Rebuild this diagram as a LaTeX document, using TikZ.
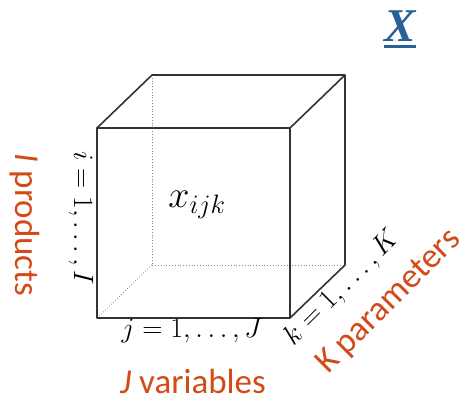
\RequirePackage{fix-cm}
\documentclass[tikz,border=0pt]{standalone}
\usepackage{fontspec}
\usepackage{xcolor}
\usepackage{tikz}
\usetikzlibrary{calc}
\newfontfamily\labelfont{Carlito}
\newfontfamily\titlefont{Liberation Serif}
\definecolor{labelred}{RGB}{210,74,24}
\definecolor{titleblue}{RGB}{42,96,153}

\begin{document}
\begin{tikzpicture}[x=1pt,y=-1pt]
              \tikzstyle{edge}=[black!80,line width=1.6pt,line join=round]
              \tikzstyle{hidden}=[black!45,line width=0.8pt,dotted]
              \tikzstyle{caption}=[text=labelred,font=\labelfont\fontsize{35}{40}\selectfont,inner sep=0pt]
              \tikzstyle{index}=[font=\fontsize{28}{32}\selectfont,inner sep=0pt]

              \useasboundingbox (0,0) rectangle (465,398);

              % CORNERS
              \coordinate (FTL) at (97,128);
              \coordinate (FTR) at (290,128);
              \coordinate (FBL) at (97,318);
              \coordinate (FBR) at (290,318);
              \coordinate (BTL) at (152,75);
              \coordinate (BTR) at (345,75);
              \coordinate (BBL) at (152,265);
              \coordinate (BBR) at (345,265);

              % HIDDEN EDGES
              \draw[hidden] (BTL) -- (BBL) -- (BBR);
              \draw[hidden] (FBL) -- (BBL);

              % VISIBLE EDGES
              \draw[edge] (FTL) -- (FTR) -- (FBR) -- (FBL) -- cycle;
              \draw[edge] (FTL) -- (BTL) -- (BTR) -- (FTR);
              \draw[edge] (BTR) -- (BBR) -- (FBR);

              % LABELS
              \node[font=\fontsize{38}{40}\selectfont] (entry) at (197,205) {$x_{ijk}$};
              \node[index,rotate=-90] (ilabel) at (81,218) {$i=1,\dots,I$};
              \node[index] (jlabel) at (192,331) {$j=1,\dots,J$};
              \node[index,rotate=45] (klabel) at (342,288) {$k=1,\dots,K$};

              \node[caption,rotate=-90] (products) at (25,225) {\textit{I} products};
              \node[caption] (variables) at (193,381) {\textit{J} variables};
              \node[caption,rotate=45] (parameters) at (389,302) {K parameters};

              \node[text=titleblue,font=\titlefont\bfseries\itshape\fontsize{47}{50}\selectfont,
              inner sep=0pt,anchor=base] (title) at (400,42) {X};
              \draw[titleblue,line width=3pt] ($(title.base west)+(0,4.5)$) -- ($(title.base east)+(0,4.5)$);
            \end{tikzpicture}
\end{document}
